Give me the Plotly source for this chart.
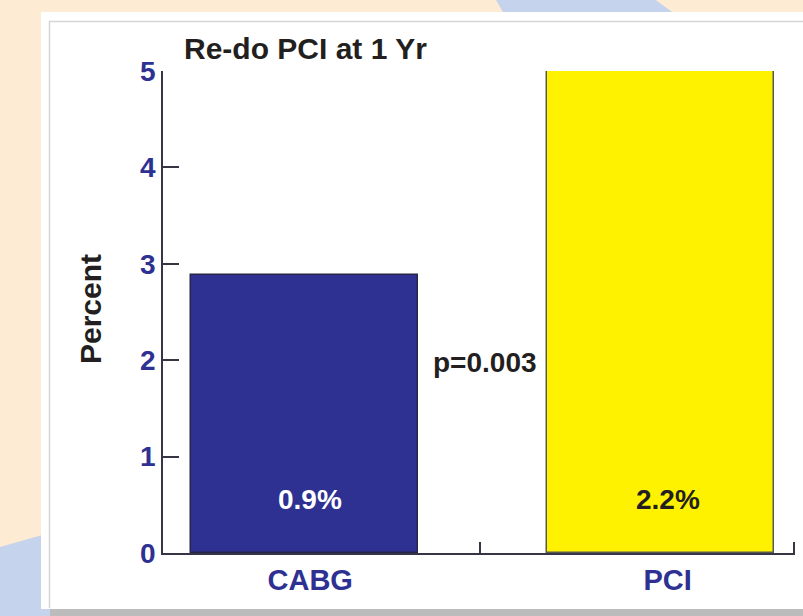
import plotly.graph_objects as go

categories = ["CABG", "PCI"]
bar_heights = [2.88, 5.0]
value_labels = ["0.9%", "2.2%"]
bar_colors = ["#2e3192", "#fff200"]
label_colors = ["#ffffff", "#231f20"]
y_ticks = [0, 1, 2, 3, 4, 5]
p_text = "p=0.003"
title_text = "Re-do PCI at 1 Yr"
y_title = "Percent"

W, H = 803, 616
L, R, T, B = 163, 8, 71, 63
PW, PH = W - L - R, H - T - B

def px(x):
    return (x - L) / PW

def py(y):
    return (H - B - y) / PH

x_pos = [0, 1]
label_x = [0.016, 1.02]
FONT = "Liberation Sans, Arial, sans-serif"
BLUE = "#2e3192"
DARK = "#231f20"
AX = "#353545"

fig = go.Figure()
fig.add_trace(go.Bar(
    x=x_pos, y=bar_heights, width=0.638,
    marker=dict(color=bar_colors, line=dict(color=["#26264a", "#5a5a50"], width=1.5)),
    hoverinfo="skip", showlegend=False,
))

shapes = []
# background decoration (slide)
shapes.append(dict(type="path", xref="paper", yref="paper", layer="below",
                   path=f"M {px(0)},{py(547)} L {px(60)},{py(530)} L {px(60)},{py(620)} L {px(0)},{py(620)} Z",
                   fillcolor="#c6d3ec", line=dict(width=0)))
shapes.append(dict(type="path", xref="paper", yref="paper", layer="below",
                   path=f"M {px(495)},{py(-2)} L {px(653)},{py(-2)} L {px(690)},{py(25)} L {px(510)},{py(25)} Z",
                   fillcolor="#c6d3ec", line=dict(width=0)))
# white outer frame
shapes.append(dict(type="rect", xref="paper", yref="paper", layer="below",
                   x0=px(41), x1=px(810), y0=py(12), y1=py(609),
                   fillcolor="#ffffff", line=dict(width=0)))
# shadow
shapes.append(dict(type="rect", xref="paper", yref="paper", layer="below",
                   x0=px(50), x1=px(810), y0=py(609), y1=py(620),
                   fillcolor="#bcbcbc", line=dict(width=0)))
# inner panel border
shapes.append(dict(type="path", xref="paper", yref="paper", layer="below",
                   path=f"M {px(49.5)},{py(608)} L {px(49.5)},{py(21.5)} L {px(810)},{py(21.5)}",
                   line=dict(color="#d6d6d6", width=1.5)))

annotations = [
    dict(text=title_text, xref="paper", yref="paper", x=px(182), y=py(49),
         xanchor="left", yanchor="middle", showarrow=False,
         font=dict(family=FONT, size=30, color=DARK, weight=700)),
    dict(text=y_title, xref="paper", yref="paper", x=px(90), y=py(309),
         xanchor="center", yanchor="middle", textangle=-90, showarrow=False,
         font=dict(family=FONT, size=30, color=DARK, weight=700)),
    dict(text=p_text, xref="x", yref="y", x=0.507, y=1.98,
         xanchor="center", yanchor="middle", showarrow=False,
         font=dict(family=FONT, size=28, color=DARK, weight=700)),
]
for i in range(2):
    annotations.append(dict(text=value_labels[i], xref="x", yref="y", x=label_x[i], y=0.56,
                            xanchor="center", yanchor="middle", showarrow=False,
                            font=dict(family=FONT, size=28, color=label_colors[i], weight=700)))

fig.update_layout(
    width=W, height=H,
    margin=dict(l=L, r=R, t=T, b=B, pad=0),
    paper_bgcolor="#fdebd3", plot_bgcolor="rgba(0,0,0,0)",
    shapes=shapes, annotations=annotations,
    xaxis=dict(range=[-0.3975, 1.3778], tickvals=label_x, ticktext=categories,
               ticks="", ticklen=0, showgrid=False, zeroline=False,
               showline=True, linecolor=AX, linewidth=1.5,
               tickfont=dict(family=FONT, size=29, color=BLUE, weight=700),
               minor=dict(tickvals=[0.493, 1.376], ticks="inside", ticklen=11,
                          tickwidth=1.5, tickcolor=AX, showgrid=False),
               fixedrange=True),
    yaxis=dict(range=[0, 5], tickvals=y_ticks, ticks="inside", ticklen=16,
               tickwidth=1.5, tickcolor=AX, showgrid=False, zeroline=False,
               showline=True, linecolor=AX, linewidth=1.5,
               tickfont=dict(family=FONT, size=28, color=BLUE, weight=700),
               fixedrange=True),
    bargap=0,
)

fig.write_html("out.html", config={"displayModeBar": False},
               post_script="document.body.style.margin='0';document.body.style.padding='0';")
